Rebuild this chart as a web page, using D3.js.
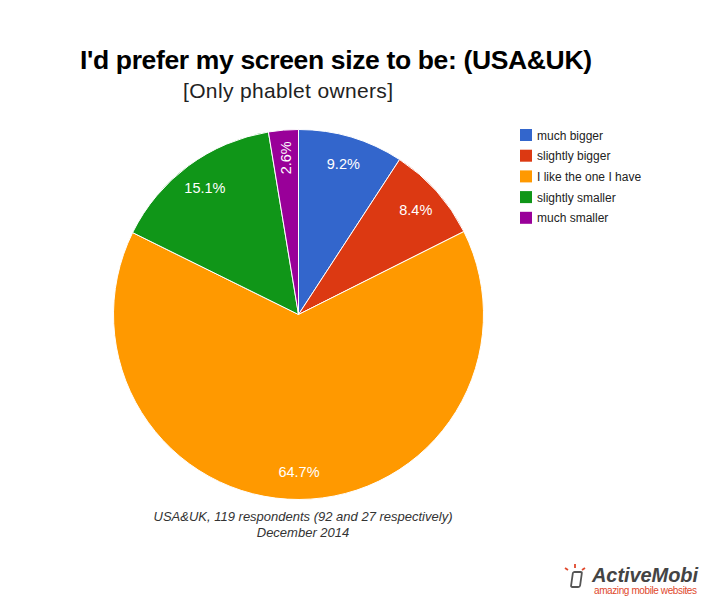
<!DOCTYPE html>
<html><head><meta charset="utf-8">
<script src="https://d3js.org/d3.v7.min.js"></script>
<style>body{margin:0;background:#fff}svg{display:block}</style>
</head><body>
<svg id="c" width="704" height="600"></svg>
<script>
const categories = ["much bigger","slightly bigger","I like the one I have","slightly smaller","much smaller"];
const values = [9.2, 8.4, 64.7, 15.1, 2.6];
const colors = ["#3366cc","#dc3912","#ff9900","#109618","#990099"];
const titleText = "I'd prefer my screen size to be: (USA&UK)";
const subtitleText = "[Only phablet owners]";
const noteLines = ["USA&UK, 119 respondents (92 and 27 respectively)","December 2014"];

const svg = d3.select("#c");
const cx = 298.5, cy = 314.5, R = 185;

svg.append("text").attr("x",336).attr("y",69).attr("text-anchor","middle")
  .attr("font-family","Liberation Sans, Arial, sans-serif").attr("font-weight","bold")
  .attr("font-size",26.5).attr("fill","#000").attr("textLength",512).text(titleText);
svg.append("text").attr("x",288).attr("y",98).attr("text-anchor","middle")
  .attr("font-family","Liberation Sans, Arial, sans-serif")
  .attr("font-size",21).attr("fill","#222").attr("textLength",210).text(subtitleText);

const pie = d3.pie().sort(null).value(d=>d)(values);
const arc = d3.arc().innerRadius(0).outerRadius(R);
const g = svg.append("g").attr("transform",`translate(${cx},${cy})`);
g.selectAll("path").data(pie).join("path").attr("d",arc)
  .attr("fill",(d,i)=>colors[i]).attr("stroke","#fff").attr("stroke-width",1);

const lr = R*0.85;
g.selectAll("text.lab").data(pie).join("text").attr("class","lab")
  .attr("transform",d=>{
    const a=(d.startAngle+d.endAngle)/2;
    const x=Math.sin(a)*lr, y=-Math.cos(a)*lr;
    const rot = (d.endAngle-d.startAngle) < 0.2 ? -90 : 0;
    return `translate(${x},${y}) rotate(${rot})`;
  })
  .attr("text-anchor","middle").attr("dy","0.36em")
  .attr("font-family","Liberation Sans, Arial, sans-serif").attr("font-size",14.5)
  .attr("fill","#fff").text(d=>d.data.toFixed(1)+"%");

const leg = svg.append("g");
categories.forEach((c,i)=>{
  const y = 129 + i*20.7;
  leg.append("rect").attr("x",520).attr("y",y).attr("width",12).attr("height",12).attr("fill",colors[i]);
  leg.append("text").attr("x",537).attr("y",y+10.5).attr("font-family","Liberation Sans, Arial, sans-serif")
    .attr("font-size",12).attr("fill","#222").text(c);
});

noteLines.forEach((t,i)=>{
  svg.append("text").attr("x",303).attr("y",521+i*15.5).attr("text-anchor","middle")
    .attr("font-family","Liberation Sans, Arial, sans-serif").attr("font-style","italic")
    .attr("font-size",13).attr("fill","#333").text(t);
});

// logo
const lg = svg.append("g");
lg.append("rect").attr("x",0).attr("y",0).attr("width",9).attr("height",15).attr("rx",1.5)
  .attr("fill","none").attr("stroke","#555").attr("stroke-width",1.8)
  .attr("transform","translate(573,572) skewX(-8)");
[[568,570,565,568],[575,568,575,564],[582,570,585,568]].forEach(l=>{
  lg.append("line").attr("x1",l[0]).attr("y1",l[1]).attr("x2",l[2]).attr("y2",l[3])
    .attr("stroke","#e0482c").attr("stroke-width",1.8);
});
lg.append("text").attr("x",592).attr("y",582).attr("font-family","Liberation Sans, Arial, sans-serif")
  .attr("font-weight","bold").attr("font-style","italic").attr("font-size",20).attr("fill","#444")
  .attr("textLength",106).text("ActiveMobi");
lg.append("text").attr("x",594).attr("y",594).attr("font-family","Liberation Sans, Arial, sans-serif")
  .attr("font-size",10).attr("fill","#e0482c").attr("textLength",103).text("amazing mobile websites");
</script>
</body></html>
